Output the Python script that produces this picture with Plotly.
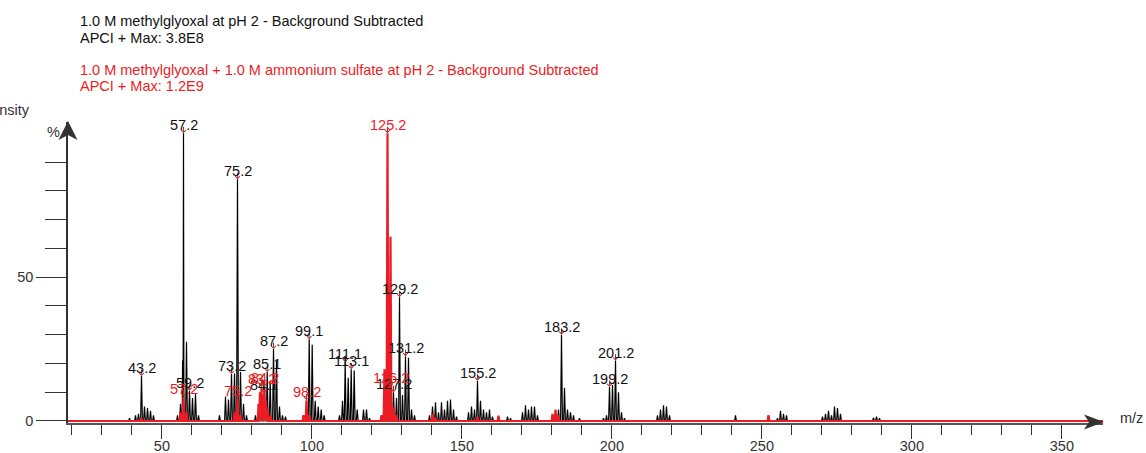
import plotly.graph_objects as go

# ---------------- data (percent of each spectrum's own max) ----------------
black_mz = [39.2, 41.2, 42.2, 43.2, 44.2, 45.2, 46.2, 47.2, 55.2, 56.2, 56.9, 57.2, 58.2, 59.2, 60.2,
            61.2, 62.2, 69.2, 71.2, 72.2, 73.2, 74.2, 75.2, 76.2, 77.2, 78.2, 81.2, 83.1, 84.1,
            85.1, 86.1, 87.2, 88.2, 89.2, 90.2, 91.2, 97.2, 98.2, 99.1, 100.1, 101.1, 102.1,
            103.1, 104.1, 109.2, 110.2, 111.1, 112.1, 113.1, 114.1, 115.1, 117.2, 118.2, 119.2,
            124.2, 126.2, 127.2, 128.2, 129.2, 130.2, 131.2, 132.2, 133.2, 134.2, 139.2, 140.2,
            141.2, 142.2, 143.2, 144.2, 145.2, 146.2, 147.2, 148.2, 152.2, 153.2, 154.2, 155.2,
            156.2, 157.2, 158.2, 159.2, 160.2, 165.2, 166.2, 170.2, 171.2, 172.2, 173.2, 174.2,
            175.2, 182.2, 183.2, 184.2, 185.2, 186.2, 187.2, 189.2, 197.2, 198.2, 199.2, 200.2,
            201.2, 202.2, 203.2, 204.2, 215.2, 216.2, 217.2, 218.2, 219.2, 241.2, 255.2, 256.2,
            257.2, 258.2, 270.2, 271.2, 272.2, 273.2, 274.2, 275.2, 276.2, 287.2, 288.2, 289.2]
black_int = [1.0, 2.0, 2.5, 15.6, 5.0, 4.5, 3.5, 2.0, 2.0, 6.0, 21.0, 100.0, 27.5, 10.5, 8.0,
             9.5, 2.0, 2.0, 8.5, 7.5, 16.3, 16.5, 84.0, 17.0, 6.0, 2.0, 2.0, 9.0, 9.7,
             17.0, 14.0, 25.0, 21.0, 5.0, 2.0, 1.5, 2.0, 4.0, 28.4, 26.5, 7.0, 5.0,
             4.0, 2.0, 2.0, 7.0, 20.4, 15.0, 18.0, 17.5, 4.0, 4.0, 4.0, 1.0,
             3.0, 6.0, 10.0, 8.0, 43.0, 9.0, 22.5, 22.0, 4.0, 2.0, 2.0, 5.0,
             6.5, 3.0, 6.5, 4.0, 7.0, 7.5, 4.0, 1.5, 3.0, 5.0, 4.0, 14.0,
             7.0, 4.0, 3.0, 4.0, 1.5, 1.5, 1.0, 3.0, 5.5, 4.0, 5.0, 5.0,
             2.0, 4.0, 30.0, 11.5, 4.0, 3.0, 2.0, 1.0, 1.0, 2.0, 11.8, 12.5,
             21.0, 10.0, 3.0, 1.0, 2.0, 4.0, 5.5, 5.0, 2.0, 2.0, 1.0, 3.5,
             2.5, 2.0, 1.5, 2.5, 3.5, 2.0, 5.0, 4.5, 2.5, 1.2, 1.5, 1.0]

red_mz = [43.2, 56.2, 57.2, 58.2, 74.2, 75.2, 76.2, 82.2, 82.7, 83.2, 83.7, 84.2, 84.7, 85.2, 86.2,
          97.2, 98.2, 99.2, 123.2, 124.2, 125.2, 126.2, 127.2, 128.2, 140.2, 141.2, 155.2,
          162.2, 180.2, 181.2, 182.2, 252.2]
red_int = [1.0, 3.0, 8.5, 3.0, 3.0, 7.8, 2.0, 6.0, 10.0, 11.8, 9.0, 12.0, 7.0, 4.0, 2.0,
           2.0, 7.2, 2.0, 2.0, 18.0, 100.0, 64.0, 5.0, 2.0, 2.5, 1.0, 1.5,
           1.8, 2.5, 4.0, 2.0, 2.0]

black_label_mz = [43.2, 57.2, 59.2, 73.2, 75.2, 84.1, 85.1, 87.2, 99.1, 111.1, 113.1, 127.2,
                  129.2, 131.2, 155.2, 183.2, 199.2, 201.2]
black_label_h = [15.6, 100.0, 10.5, 16.3, 84.0, 9.7, 17.0, 25.0, 28.4, 20.4, 18.0, 10.0,
                 43.0, 22.5, 14.0, 30.0, 11.8, 21.0]
red_label_mz = [57.2, 75.2, 83.2, 84.2, 98.2, 125.2, 126.2]
red_label_h = [8.5, 7.8, 11.8, 12.0, 7.2, 100.0, 12.0]

x_tick_major = [50, 100, 150, 200, 250, 300, 350]
x_tick_minor = list(range(20, 350, 10))
y_tick_major = [0, 50]
y_tick_minor = [10, 20, 30, 40, 60, 70, 80, 90]

title_black = ["1.0 M methylglyoxal at pH 2 - Background Subtracted", "APCI + Max: 3.8E8"]
title_red = ["1.0 M methylglyoxal + 1.0 M ammonium sulfate at pH 2 - Background Subtracted",
             "APCI + Max: 1.2E9"]

# ---------------- style / layout ----------------
X0, X1 = 18.7, 363.7
Y0, Y1 = -0.7, 103.9
L, R, T, B = 68, 1103, 122, 423
W, H = R - L, B - T
FONT = "Liberation Sans, Arial, Helvetica, sans-serif"
FS = 14.5
RED = "#ec1c24"
BLACK = "#111111"
AXC = "#333333"


def px(xp):
    return (xp - L) / W


def py(yp):
    return (B - yp) / H


def profile(mz, inten):
    pts = sorted(zip(mz, inten))
    xs, ys = [X0], [0]
    for i, (m, h) in enumerate(pts):
        left = pts[i - 1][0] if i > 0 else m - 1
        right = pts[i + 1][0] if i < len(pts) - 1 else m + 1
        hw = min(0.3, (m - left) / 2.2, (right - m) / 2.2)
        xs += [m - hw, m, m + hw]
        ys += [0, h, 0]
    xs.append(X1)
    ys.append(0)
    return xs, ys


fig = go.Figure()
bx, by = profile(black_mz, black_int)
fig.add_trace(go.Scatter(x=bx, y=by, mode="lines", line=dict(color="#000000", width=1.2),
                         hoverinfo="skip", showlegend=False))
rx, ry = profile(red_mz, red_int)
fig.add_trace(go.Scatter(x=rx, y=ry, mode="lines", line=dict(color=RED, width=2.2),
                         fill="tozeroy", fillcolor=RED, hoverinfo="skip", showlegend=False))

ann = []
for mz_list, h_list, col in ((black_label_mz, black_label_h, BLACK), (red_label_mz, red_label_h, RED)):
    for m, h in zip(mz_list, h_list):
        ann.append(dict(x=m, y=h, xref="x", yref="y", text="", showarrow=True, ax=0, ay=-8,
                        arrowhead=4, arrowsize=0.9, arrowwidth=1, arrowcolor="#a8302c"))
        ann.append(dict(x=m, y=h, xref="x", yref="y", text=f"{m:.1f}", showarrow=False,
                        yanchor="middle", yshift=8, font=dict(family=FONT, size=FS, color=col)))

for txt, yc, col in ((title_black[0], 20.7, BLACK), (title_black[1], 37.5, BLACK),
                     (title_red[0], 70, RED), (title_red[1], 85.5, RED)):
    ann.append(dict(x=px(78), y=py(yc), xref="paper", yref="paper", text=txt, showarrow=False,
                    xanchor="left", yanchor="middle", font=dict(family=FONT, size=FS, color=col)))

ann.append(dict(x=px(32), y=py(110), xref="paper", yref="paper", text="Intensity", showarrow=False,
                xanchor="right", yanchor="middle", font=dict(family=FONT, size=FS, color=AXC)))
ann.append(dict(x=px(53), y=py(132), xref="paper", yref="paper", text="%", showarrow=False,
                xanchor="center", yanchor="middle", font=dict(family=FONT, size=FS, color=AXC)))
ann.append(dict(x=px(1118), y=py(418), xref="paper", yref="paper", text="m/z", showarrow=False,
                xanchor="left", yanchor="middle", font=dict(family=FONT, size=FS, color=AXC)))


def arrow_path(pts):
    return "M " + " L ".join(f"{px(a):.5f},{py(b):.5f}" for a, b in pts) + " Z"


shapes = [
    dict(type="path", xref="paper", yref="paper", line=dict(width=0), fillcolor=AXC,
         path=arrow_path([(68, 121), (58.5, 140), (68, 135), (77.5, 140)])),
    dict(type="path", xref="paper", yref="paper", line=dict(width=0), fillcolor=AXC,
         path=arrow_path([(1104, 422), (1084, 414.5), (1089, 422), (1084, 429.5)])),
]

fig.update_layout(
    width=1146, height=453, autosize=False,
    margin=dict(l=L, r=1146 - R, t=T, b=453 - B, pad=0, autoexpand=False),
    paper_bgcolor="white", plot_bgcolor="white",
    font=dict(family=FONT, size=FS, color=AXC),
    annotations=ann, shapes=shapes, showlegend=False,
    xaxis=dict(range=[X0, X1], showgrid=False, zeroline=False, showline=True, linecolor="#555555",
               linewidth=1.5, ticks="outside", ticklen=14, tickwidth=1.3, tickcolor=AXC,
               automargin=False, ticklabelstandoff=-5,
               tickmode="array", tickvals=x_tick_major, ticktext=[str(v) for v in x_tick_major],
               tickfont=dict(family=FONT, size=FS, color=AXC),
               minor=dict(tickmode="array", tickvals=x_tick_minor, ticks="outside", ticklen=10,
                          tickwidth=1.3, tickcolor=AXC, showgrid=False)),
    yaxis=dict(range=[Y0, Y1], showgrid=False, zeroline=False, showline=True, linecolor=AXC,
               linewidth=1.5, ticks="outside", ticklen=30, tickwidth=1.3, tickcolor=AXC,
               automargin=False,
               tickmode="array", tickvals=y_tick_major, ticktext=[str(v) for v in y_tick_major],
               tickfont=dict(family=FONT, size=FS, color=AXC),
               minor=dict(tickmode="array", tickvals=y_tick_minor, ticks="outside", ticklen=21,
                          tickwidth=1.3, tickcolor=AXC, showgrid=False)),
)

fig.write_html("out.html", config={"displayModeBar": False},
               post_script="document.body.style.margin='0';document.body.style.overflow='hidden';")
